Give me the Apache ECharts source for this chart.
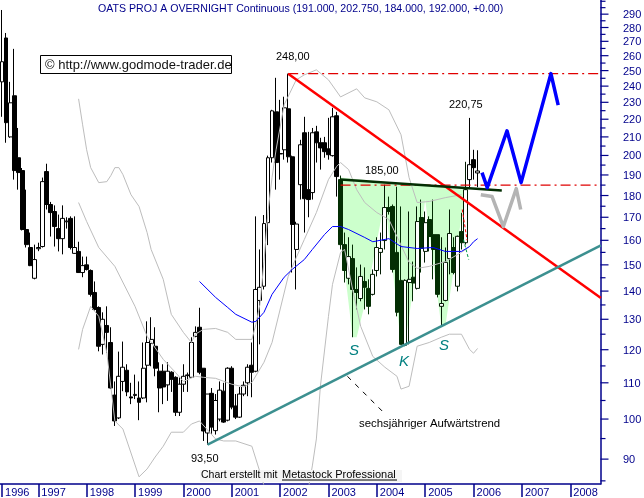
<!DOCTYPE html>
<html><head><meta charset="utf-8">
<style>html,body{margin:0;padding:0;background:#fff}#c{width:644px;height:498px}</style>
<script src="https://cdn.jsdelivr.net/npm/echarts@6/dist/echarts.min.js"></script>
</head><body><div id="c"></div>
<script>
const opens=[242.7,272.4,210,234,198.8,192.2,164.6,157,144.8,156.5,157.4,191.7,175.8,172.6,165,160.7,168,169.5,154.6,155.4,147,150,147.8,139.5,134.1,121.7,127.9,122.3,106.5,100.3,110.4,113.7,106,106.4,105.7,105.7,115.2,122,121.1,113.4,113.4,109.4,113.1,111.6,101.8,109.6,112.3,111.6,124.3,127.3,114.3,96.4,107,97,100,107.6,99.7,114.3,103.5,100.5,106.8,110,115.2,113.4,136.6,141.8,167.6,198.8,224.3,201,203,226.1,199.3,156.2,185.2,212.3,182.8,181.4,212.8,206.8,206.8,203.5,199.9,222,187.7,158.2,144.8,152.5,140.6,137.3,143.6,141,138.8,147.8,155,159.9,174.4,174.9,155,144,121.4,143.2,145.2,141,169.9,155.4,169,162.4,162.4,134.5,136.6,152.5,157,141.8,163.7,159,187.7,197.8,191];
const closes=[255.9,218,229.7,192.2,191.2,164.6,158.2,149.7,152.1,157,186.7,175.8,172.1,165.9,160.7,169.5,168.3,157,157,147,149.7,148.2,138.8,133.4,121.1,130,125.6,108.5,99.5,111.9,114.6,107.4,105.7,106.7,104.5,114.3,122.3,123.3,114.3,108.5,108.8,113.4,111,101.8,109.6,111.9,112.1,122.3,125.6,113.1,96.9,106.8,97.9,105,107.9,99.2,114.3,103.2,100.5,106.8,109.3,114.6,113.1,140.6,141.4,167.2,198.8,224.9,196.3,200.8,226.7,199.3,166.8,167,205.7,178.5,178.1,212.3,206.8,204,202,200.4,221.4,189.2,158.2,147.8,153.3,140.6,139.5,145.5,141.4,134.5,146.3,157,156.6,174.4,172.6,148.2,132.4,121.7,144,144.4,143,168.1,156.6,167.6,161.6,156.2,138.8,135.5,151,162.9,147,161.7,159,182.8,195.2,193.7,192];
const lows=[221.4,206.8,209.5,187.7,182.8,164.2,157,149.5,144.4,155.5,157,173.5,161.6,157.4,155.4,154.2,165,156.2,154.4,146.9,145.2,147.8,138,133,119.5,118.5,119.1,108.2,98.2,100,107.6,106.2,104,105.4,99.7,105.4,104.5,114.9,111.9,101.8,104,104.9,107.4,100.8,100.8,107.4,107.4,111.6,124,112.5,94.4,93.5,96.2,96,99.4,99,99.4,102.6,100,100.3,106.2,106.2,105.9,113.1,121.7,140.6,158,196.3,182.8,187.7,197.8,196.3,147,140.6,178.1,163.3,170,178.1,196.3,192.7,198.8,197.8,199.4,179.5,156.2,143.2,142.5,124,133.4,136.3,133.4,131.7,138.4,145.5,146.3,156.2,171.2,147,131,121.7,121.1,121.7,136.3,140.6,147,150.9,155.4,144.4,137.7,127.6,136.3,146.3,146.3,139.9,156.2,158.2,183.8,187.7,184];
const highs=[293.2,276,242.7,264.7,215,193.5,182.8,163.3,158.2,159,188.7,195.7,177,175.4,171.2,175.4,170,170.4,170.4,159.4,153.3,153.3,148.2,143.6,134.5,132.4,134.5,127.3,110.4,119.4,122.6,115.5,110,112.4,110.4,122.3,129.3,130.7,127.3,116.1,115.5,116.1,113.4,111.9,111.6,115.5,113,124,127.6,134,114.3,106.8,108.5,106.8,110.4,110,114.6,114.9,106.8,108.8,110.4,115.5,122.3,170.4,156.2,171,199.9,225.5,245.3,231.5,233.4,248,199.9,168,208.4,221.4,212.8,215,216.2,209.5,210,220.8,226.7,224.3,189.7,163.3,161.3,158.2,149,150.1,149,144.4,148.2,161.3,163.3,185.2,179.5,175.8,184.2,174.9,144.4,172.6,151.3,174.9,178.1,172.6,170.4,178.1,162.4,161.3,157,173.5,161.3,162,172,196.7,220.75,203,202.75];

const upperBand=[[19,232.1],[20,216.8],[21,203],[22,193.7],[24,186.2],[26,186.7],[27,189.7],[28,193.7],[29,193.7],[30,190.2],[32,180.4],[34,174.9],[36,163.3],[37,156.2],[40,144.4],[42,131.7],[45,125.6],[47,122.3],[48,125],[50,126.6],[53,126.9],[56,125.6],[58,123.3],[62,123.3],[63,128.3],[64,135.2],[65,151.3],[66,172.6],[67,188.7],[68,203],[70,228.5],[73,244],[75,247.2],[78,250.5],[81,244],[84,233.3],[88,238.3],[90,232.7],[93,230.3],[96,225.5],[99,211.2],[101,188.7],[103,176.7],[106,177.2],[110,179],[114,180.4]];
const middleBand=[[19,176.7],[21,168.1],[24,157],[28,149.4],[33,134.5],[36,124.3],[40,117],[43,113.1],[45,110.4],[48,111.9],[50,111.6],[53,111.3],[57,109.6],[60,108.8],[62,110.1],[65,116.1],[67,122.3],[71,145.5],[73,152.9],[75,160.3],[78,172.1],[81,187.7],[83,194.2],[84,196.3],[86,192.7],[88,182.8],[90,176.7],[93,172.1],[96,169],[98,161.6],[101,151],[103,148.6],[106,149.4],[110,151.3],[114,155],[116,157.4]];
const lowerBand=[[19,120.1],[20,126.6],[22,134.5],[24,131],[26,119.1],[28,99.5],[30,97.4],[34,85.9],[36,87.7],[38,90.5],[40,93.1],[42,96.6],[45,96.6],[47,98.7],[49,99.5],[53,94.9],[55,94.4],[58,94.4],[62,93.1],[64,87],[65,84],[68,79],[74,79],[76,83.2],[77,88.4],[78,94.9],[79,109],[81,131],[82,142.5],[84,155],[85,156.2],[87,140.6],[89,127.6],[92,117.9],[95,114.6],[98,111.9],[99,108.2],[101,109],[103,121.1],[106,122.3],[109,124],[111,125],[114,125],[116,120.1],[117,118.9],[118,120.4]];
const movingAverage=[[49,143.6],[53,137.7],[56,134.1],[58,131.7],[62,129],[63,129.3],[65,132.4],[67,138.8],[70,145.2],[72,148.2],[75,152.1],[77,156.2],[80,162.4],[82,165.9],[84,165.9],[86,164.6],[90,161.2],[92,159.4],[96,160.7],[99,157.4],[103,156.6],[107,157],[110,155.4],[114,155.4],[116,157.4],[117,159.4],[118,160.7]];

const patternOutline=[[84,188.7],[85,148.2],[87,124],[88,124],[90,135.2],[95,178],[99,121.7],[100,121.7],[102,140.6],[105,178],[109,127.6],[110,127.6],[115,182.8]];
const neckline=[[84,187.7],[124,182.4]];
const downTrend=[[71,248],[148.6,137.5]];
const upTrend=[[51,93.5],[148.6,157.9]];
const level248=[[71,248],[148.5,248]];
const level185=[[84,185],[148.5,185]];
const trendPointer=[[85.7,111.9],[95.1,101.3]];
const forecastBlue=[[119.1,191.2],[120.4,183.8],[125.3,213.4],[128.8,186.2],[136.2,248],[138,228.3]];
const forecastGray=[[118.8,180.4],[121.6,179.5],[124.4,165.9],[127.6,183.3],[128.7,173.5]];
const shortRed=[[114.2,173.5],[115.4,160]];
const shortGreen=[[114.5,160.3],[115.8,152.1]];

const yMajor=[90,100,110,120,130,140,150,160,170,180,190,200,210,220,230,240,250,260,270,280,290];
const yAll=[85,90,95,100,105,110,115,120,125,130,135,140,145,150,155,160,165,170,175,180,185,190,195,200,205,210,215,220,225,230,235,240,245,250,255,260,265,270,275,280,285,290,295,300];
const startYear=1996,startMonth=4,monthCount=149;
const categories=[];
for(let k=0;k<monthCount;k++){const m=startMonth-1+k;categories.push((startYear+Math.floor(m/12))+'-'+String(m%12+1).padStart(2,'0'));}

const NAVY='#00008b',FONT='"Liberation Sans",Arial,sans-serif',DARKG='#032e03';
const EMPTY=['-','-','-','-'];
const inPattern=(i)=>i>=84&&i<=115;
const rowOf=(o,i)=>[o,closes[i],lows[i],highs[i]];
const candlesOutside=opens.map((o,i)=>inPattern(i)?EMPTY:rowOf(o,i));
const candlesInside=opens.map((o,i)=>inPattern(i)?rowOf(o,i):EMPTY);
const over=(name,data,color,width,z,dash)=>({type:'line',name,data,xAxisIndex:1,yAxisIndex:0,showSymbol:false,symbol:'none',z,silent:true,
  lineStyle:{color,width,type:dash||'solid',cap:'butt',join:'round'},clip:true,animation:false});

const chart=echarts.init(document.getElementById('c'),null,{renderer:'canvas'});
const txt=(text,x,y,o)=>({type:'text',x,y,z:50,silent:true,style:Object.assign({text,fill:'#000',font:'11px '+FONT,textVerticalAlign:'middle'},o||{})});
chart.setOption({
  animation:false,backgroundColor:'#fff',
  grid:{left:-0.6,top:0,width:601.1,height:485,containLabel:false},
  xAxis:[{type:'category',data:categories,boundaryGap:true,
    axisLine:{show:true,lineStyle:{color:NAVY,width:1.5}},
    axisTick:{show:true,alignWithLabel:true,length:13,lineStyle:{color:NAVY,width:1.5},interval:(i)=>i===0||(i-9)%12===0},
    axisLabel:{show:true,interval:(i)=>i===0||(i-9)%12===0,formatter:(v)=>v.slice(0,4),align:'left',padding:[0,0,0,3],margin:3,color:NAVY,fontSize:11,fontFamily:'"Liberation Sans"',hideOverlap:false,showMinLabel:true},
    splitLine:{show:false}},
   {type:'value',min:-0.5,max:148.5,show:false,splitLine:{show:false}}],
  yAxis:[{type:'log',min:84.3,max:301,position:'right',logBase:10,
    axisLine:{show:true,onZero:false,lineStyle:{color:NAVY,width:1.5}},
    axisTick:{show:false},axisLabel:{show:false},splitLine:{show:false},minorTick:{show:false}}],
  series:[
    {type:'custom',name:'pattern',xAxisIndex:1,yAxisIndex:0,z:1,silent:true,data:[[0,100]],clip:true,
     renderItem:(p,api)=>({type:'polygon',shape:{points:patternOutline.map(q=>api.coord(q))},style:{fill:'#ccffcc'}})},
    {type:'candlestick',name:'OATS',xAxisIndex:0,yAxisIndex:0,z:3,silent:true,barWidth:4.4,data:candlesOutside,clip:true,
     itemStyle:{color:'#fff',color0:'#000',borderColor:'#000',borderColor0:'#000',borderWidth:1}},
    {type:'candlestick',name:'OATS pattern',xAxisIndex:0,yAxisIndex:0,z:3,silent:true,barWidth:4.4,barGap:'-100%',data:candlesInside,clip:true,
     itemStyle:{color:'#fff',color0:DARKG,borderColor:'#021a02',borderColor0:DARKG,borderWidth:1}},
    over('upper',upperBand,'#bdbdbd',1,4),over('middle',middleBand,'#bdbdbd',1,4),over('lower',lowerBand,'#bdbdbd',1,4),
    over('ma',movingAverage,'#0000ff',1,5),
    over('level248',level248,'#e00000',1.1,6,[10,4,2,4]),over('level185',level185,'#e00000',1.1,6,[10,4,2,4]),
    over('pointer',trendPointer,'#000',1,6,[5,6]),
    over('shortRed',shortRed,'#ff0000',1,6,[3,2]),over('shortGreen',shortGreen,'#009944',1,6,[3,2]),
    over('down',downTrend,'#ff0000',2.5,7),over('up',upTrend,'#3c9090',2.5,7),
    over('neck',neckline,DARKG,2.5,8),
    over('fGray',forecastGray,'#b4b4b4',3.5,8),over('fBlue',forecastBlue,'#0000ff',3.5,9),
    {type:'custom',name:'yTicks',xAxisIndex:1,yAxisIndex:0,z:10,silent:true,clip:false,data:yAll.map(v=>[148.5,v]),
     renderItem:(p,api)=>{const v=api.value(1);const c=api.coord([148.5,v]);const major=yMajor.includes(v);
       const ch=[{type:'line',shape:{x1:c[0],y1:c[1],x2:c[0]+(major?8:5),y2:c[1]},style:{stroke:NAVY,lineWidth:1.2}}];
       if(major)ch.push({type:'text',style:{text:String(v),x:623,y:c[1]+1,fill:NAVY,font:'11px '+FONT,textVerticalAlign:'middle'}});
       return {type:'group',children:ch};}}
  ],
  graphic:[
    txt('OATS PROJ A OVERNIGHT Continuous (191.000, 202.750, 184.000, 192.000, +0.00)',98,9,{fill:NAVY,font:'10.6px '+FONT}),
    {type:'rect',z:49,silent:true,shape:{x:40.5,y:55.5,width:191,height:18},style:{fill:'#fff',stroke:'#000',lineWidth:1}},
    txt('© http://www.godmode-trader.de',45,65,{font:'13px '+FONT,fill:'#111'}),
    txt('248,00',276,57),txt('185,00',365,171),txt('220,75',449,105),txt('93,50',191,459),
    txt('sechsjähriger Aufwärtstrend',359,424,{font:'11.4px '+FONT}),
    txt('S',349,351,{font:'italic 15px '+FONT,fill:'#008080'}),
    txt('K',399,362,{font:'italic 15px '+FONT,fill:'#008080'}),
    txt('S',439,346,{font:'italic 15px '+FONT,fill:'#008080'}),
    {type:'rect',z:48,silent:true,shape:{x:200,y:470,width:202,height:12},style:{fill:'#f5f5f5'}},
    txt('Chart erstellt mit',201,475,{font:'10.5px '+FONT}),
    txt('Metastock Professional',282,475,{font:'11px '+FONT}),
    {type:'line',z:50,silent:true,shape:{x1:282,y1:480,x2:397,y2:480},style:{stroke:'#000',lineWidth:1}}
  ]
});
</script></body></html>
